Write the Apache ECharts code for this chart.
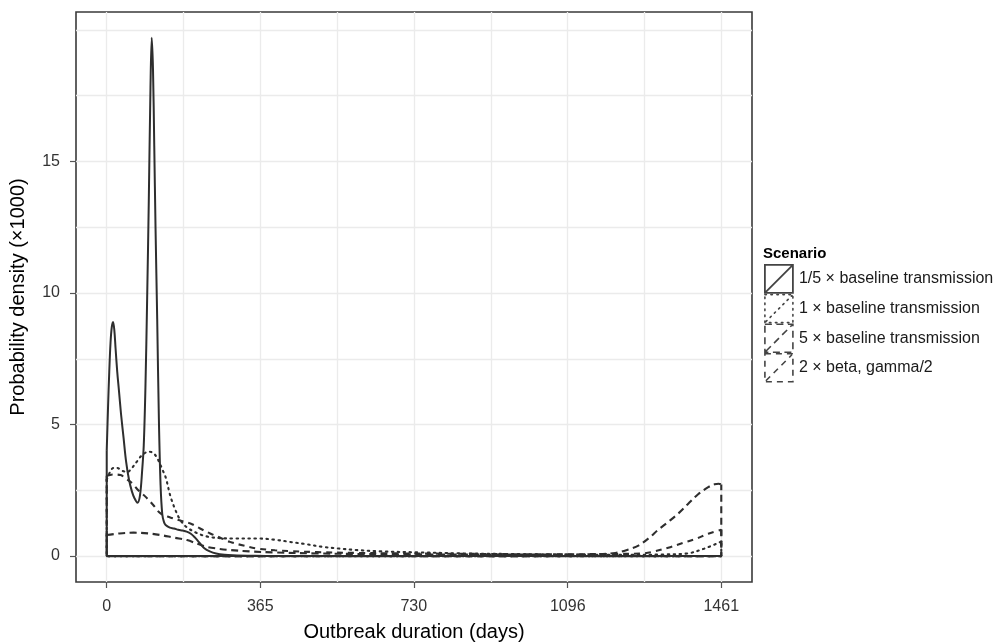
<!DOCTYPE html>
<html>
<head>
<meta charset="utf-8">
<script src="https://cdn.jsdelivr.net/npm/echarts@6/dist/echarts.min.js"></script>
<style>
html,body{margin:0;padding:0;background:#fff;}
#chart{width:1004px;height:643px;}
</style>
</head>
<body>
<div id="chart"></div>
<script>
// ---- data (densities x1000) ----
var scenarioNames = ['1/5 × baseline transmission', '1 × baseline transmission', '5 × baseline transmission', '2 × beta, gamma/2'];

var xTickLabels = [0, 365, 730, 1096, 1461];
var yTickLabels = [0, 5, 10, 15];
var xGridValues = [0, 182.6, 365, 547.5, 730, 913, 1096, 1278.5, 1461];
var yGridValues = [0, 2.5, 5, 7.5, 10, 12.5, 15, 17.5, 20];

var daysLow = [0, 3, 6, 9, 12, 15, 18, 21, 25, 29, 34, 40, 46, 53, 60, 66, 73, 79, 84, 88, 92, 96, 100, 104, 107, 110, 113, 116, 120, 124, 128, 132, 136, 140, 150, 160, 170, 180, 190, 200, 210, 222, 232, 245, 260, 280, 300, 350, 400, 600, 900, 1200, 1461];
var densLow = [4.0, 5.6, 7.0, 8.1, 8.7, 8.9, 8.6, 7.9, 7.0, 6.3, 5.4, 4.5, 3.6, 2.9, 2.45, 2.2, 2.03, 2.3, 3.2, 4.2, 6.4, 9.7, 13.5, 17.8, 19.7, 18.5, 15.6, 12.5, 9.0, 5.2, 2.7, 1.6, 1.3, 1.18, 1.08, 1.05, 1.0, 0.97, 0.93, 0.85, 0.7, 0.48, 0.3, 0.18, 0.1, 0.05, 0.03, 0.01, 0, 0, 0, 0, 0];

var daysBase = [0, 8, 16, 25, 35, 49, 60, 72, 85, 100, 112, 124, 132, 140, 151, 162, 175, 190, 215, 240, 270, 300, 357, 400, 435, 475, 514, 550, 593, 650, 743, 850, 950, 1050, 1150, 1250, 1320, 1380, 1420, 1461];
var densBase = [2.9, 3.2, 3.35, 3.35, 3.25, 3.2, 3.35, 3.6, 3.85, 3.97, 3.9, 3.6, 3.3, 3.0, 2.3, 1.8, 1.37, 1.1, 0.87, 0.74, 0.68, 0.67, 0.67, 0.62, 0.54, 0.45, 0.35, 0.29, 0.23, 0.18, 0.14, 0.1, 0.08, 0.06, 0.05, 0.05, 0.06, 0.1, 0.28, 0.55];

var daysHigh = [0, 30, 64, 100, 128, 160, 191, 215, 238, 265, 293, 340, 396, 500, 600, 700, 800, 900, 1000, 1100, 1160, 1209, 1240, 1264, 1290, 1311, 1335, 1359, 1383, 1406, 1430, 1445, 1455, 1461];
var densHigh = [0.8, 0.86, 0.89, 0.86, 0.8, 0.7, 0.61, 0.47, 0.35, 0.28, 0.23, 0.18, 0.14, 0.1, 0.08, 0.07, 0.06, 0.06, 0.06, 0.06, 0.07, 0.12, 0.25, 0.4, 0.7, 1.0, 1.3, 1.62, 2.0, 2.35, 2.62, 2.73, 2.75, 2.72];

var daysBeta = [0, 15, 33, 45, 61, 75, 92, 110, 128, 151, 175, 199, 222, 246, 270, 293, 325, 357, 400, 435, 500, 600, 700, 800, 900, 1000, 1100, 1200, 1272, 1300, 1335, 1370, 1400, 1430, 1461];
var densBeta = [3.05, 3.1, 3.08, 2.95, 2.76, 2.5, 2.26, 1.95, 1.62, 1.47, 1.35, 1.24, 1.05, 0.86, 0.7, 0.54, 0.4, 0.29, 0.22, 0.19, 0.15, 0.12, 0.1, 0.09, 0.08, 0.07, 0.07, 0.08, 0.1, 0.17, 0.32, 0.5, 0.65, 0.85, 1.0];

// ---- styles ----
var FONT = 'Liberation Sans, Arial, sans-serif';
var LINE = '#2e2e2e';
var dashTypes = ['solid', [1.5, 4.5], [7, 4.5], [6, 5]];
var caps = ['butt', 'round', 'butt', 'butt'];
var allDays = [daysLow, daysBase, daysHigh, daysBeta];
var allDens = [densLow, densBase, densHigh, densBeta];

function pairs(d, v) { return d.map(function (x, i) { return [x, v[i]]; }); }

var series = [];
scenarioNames.forEach(function (name, k) {
  var d = allDays[k], v = allDens[k];
  var ls = { color: LINE, width: k === 0 ? 2 : 2.1, type: dashTypes[k], cap: caps[k] };
  series.push({
    name: name, type: 'line', xAxisIndex: 0, yAxisIndex: 0,
    data: pairs(d, v), smooth: 0.35, showSymbol: false, symbol: 'none',
    lineStyle: ls, itemStyle: { color: LINE }, silent: true, z: 10 - k
  });
  // density outline closure: vertical edges and baseline
  series.push({
    name: name, type: 'line', xAxisIndex: 0, yAxisIndex: 0,
    data: [[d[0], v[0]], [d[0], 0], [d[d.length - 1], 0], [d[d.length - 1], v[v.length - 1]]],
    smooth: false, showSymbol: false, symbol: 'none',
    lineStyle: ls, itemStyle: { color: LINE }, silent: true, z: 10 - k
  });
});

var legendData = scenarioNames.map(function (name, k) {
  return {
    name: name,
    itemStyle: { color: 'transparent', borderColor: '#444', borderWidth: k === 0 ? 1.8 : 1.6, borderType: dashTypes[k], borderCap: caps[k] }
  };
});

var xMin = -73.05, xMax = 1534.05, yMin = -0.985, yMax = 20.68;

var option = {
  animation: false,
  backgroundColor: '#ffffff',
  textStyle: { fontFamily: FONT },
  title: {
    text: 'Scenario', left: 763, top: 246, padding: 0,
    textStyle: { fontFamily: FONT, fontSize: 15, fontWeight: 'bold', color: '#000' }
  },
  legend: {
    orient: 'vertical', left: 764, top: 264, padding: 0,
    itemWidth: 28, itemHeight: 28, itemGap: 0,
    icon: 'path://M0,0L28,0L28,28L0,28Z M1,27L27,1',
    data: legendData,
    selectedMode: false,
    textStyle: { fontFamily: FONT, fontSize: 16, color: '#1a1a1a', padding: [0, 0, 0, 1] }
  },
  grid: {
    left: 76, top: 12, right: 252, bottom: 61,
    show: true, borderColor: '#3a3a3a', borderWidth: 1.6, backgroundColor: 'transparent',
    containLabel: false, outerBoundsMode: 'none'
  },
  xAxis: [
    {
      type: 'value', min: xMin, max: xMax, position: 'bottom',
      name: 'Outbreak duration (days)', nameLocation: 'middle', nameGap: 40,
      nameTextStyle: { fontFamily: FONT, fontSize: 20, color: '#000' },
      axisLine: { show: false, onZero: false },
      axisTick: { show: true, length: 6, lineStyle: { color: '#555', width: 1.2 }, customValues: xTickLabels },
      axisLabel: { show: true, margin: 17, fontFamily: FONT, fontSize: 16, color: '#333', customValues: xTickLabels, formatter: function (v) { return String(v); } },
      splitLine: { show: false }
    },
    {
      type: 'value', min: xMin, max: xMax, position: 'top',
      axisLine: { show: false, onZero: false },
      axisTick: { show: false, customValues: xGridValues },
      axisLabel: { show: false, customValues: xGridValues },
      splitLine: { show: true, lineStyle: { color: '#ebebeb', width: 1.3 } }
    }
  ],
  yAxis: [
    {
      type: 'value', min: yMin, max: yMax, position: 'left',
      name: 'Probability density (×1000)', nameLocation: 'middle', nameGap: 48, nameRotate: 90,
      nameTextStyle: { fontFamily: FONT, fontSize: 20, color: '#000' },
      axisLine: { show: false, onZero: false },
      axisTick: { show: true, length: 6, lineStyle: { color: '#555', width: 1.2 }, customValues: yTickLabels },
      axisLabel: { show: true, margin: 16, fontFamily: FONT, fontSize: 16, color: '#333', customValues: yTickLabels, formatter: function (v) { return String(v); } },
      splitLine: { show: false }
    },
    {
      type: 'value', min: yMin, max: yMax, position: 'right',
      axisLine: { show: false, onZero: false },
      axisTick: { show: false, customValues: yGridValues },
      axisLabel: { show: false, customValues: yGridValues },
      splitLine: { show: true, lineStyle: { color: '#ebebeb', width: 1.3 } }
    }
  ],
  series: series
};

var chart = echarts.init(document.getElementById('chart'), null, { renderer: 'canvas' });
chart.setOption(option);
</script>
</body>
</html>
